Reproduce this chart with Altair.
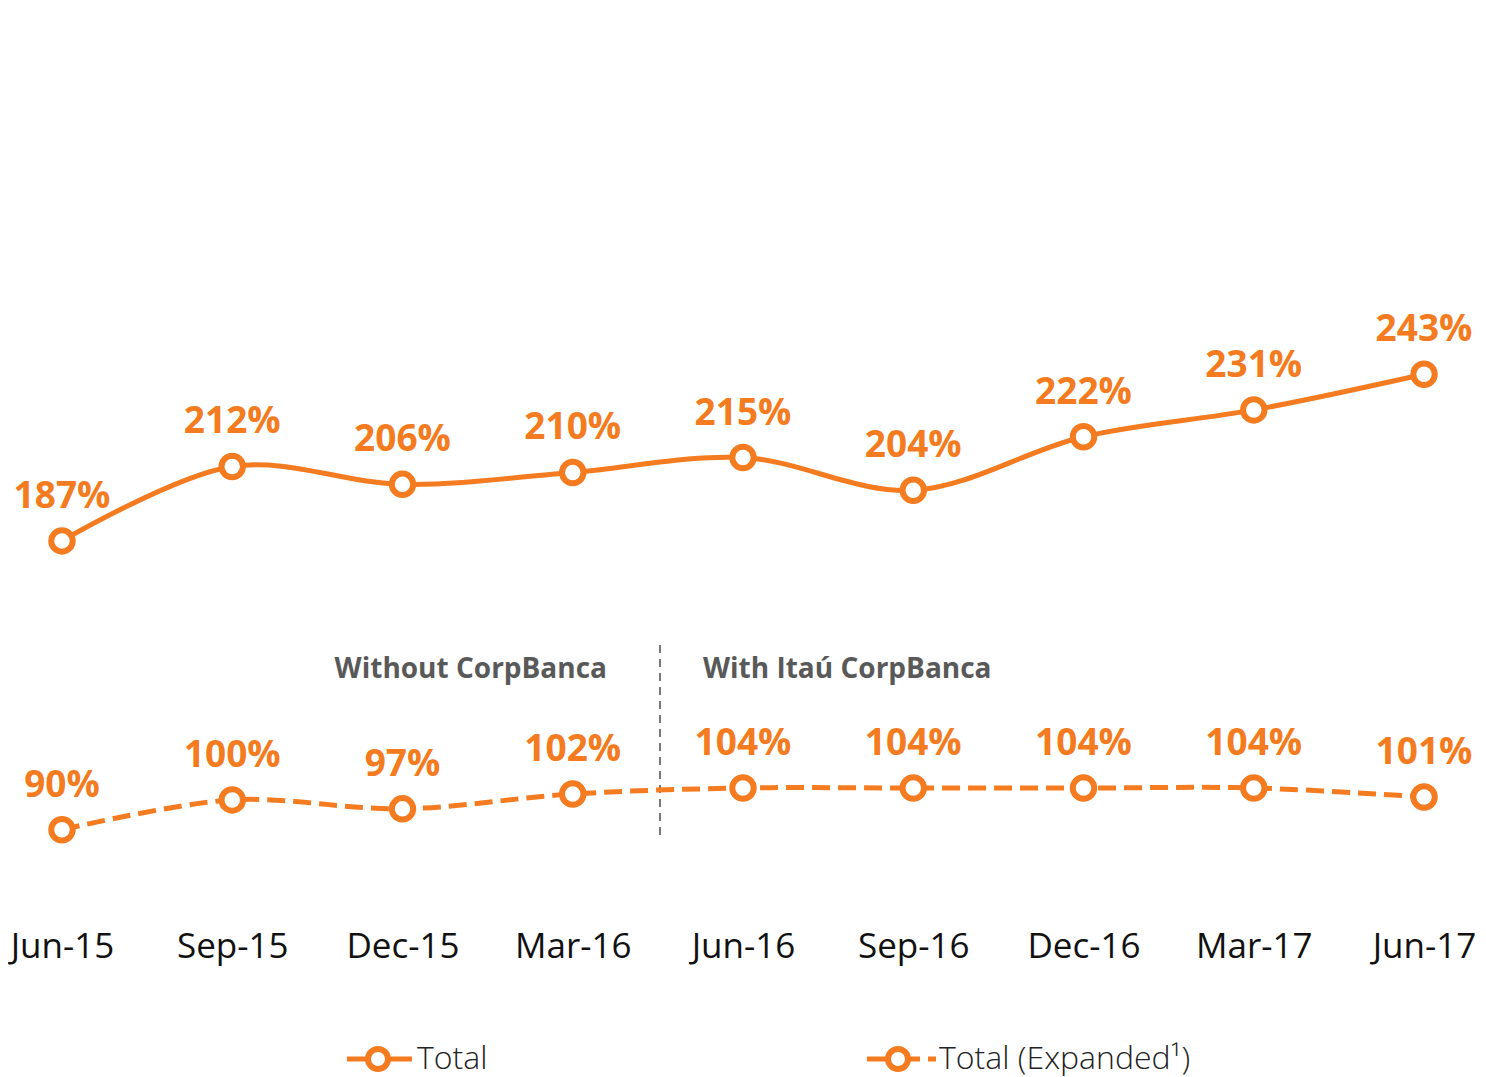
import altair as alt
import pandas as pd

categories = ["Jun-15", "Sep-15", "Dec-15", "Mar-16", "Jun-16", "Sep-16", "Dec-16", "Mar-17", "Jun-17"]
total = [187, 212, 206, 210, 215, 204, 222, 231, 243]
expanded = [90, 100, 97, 102, 104, 104, 104, 104, 101]

ORANGE = "#F47B20"
FONT = "Open Sans"

df_total = pd.DataFrame({"cat": categories, "v": total, "lbl": [f"{v}%" for v in total]})
df_exp = pd.DataFrame({"cat": categories, "v": expanded, "lbl": [f"{v}%" for v in expanded]})

x = alt.X("cat:N", sort=categories,
          scale=alt.Scale(type="point", padding=0.317),
          axis=alt.Axis(title=None, labelAngle=0, labelFontSize=35, labelFont=FONT,
                        labelColor="#111111", ticks=False, domain=False, labelPadding=10,
                        grid=False))
y = alt.Y("v:Q", scale=alt.Scale(domain=[60, 366], nice=False, zero=False), axis=None)


def series(df, dash):
    line_kw = dict(color=ORANGE, strokeWidth=5, interpolate="catmull-rom")
    if dash:
        line_kw["strokeDash"] = [18, 8]
    line = alt.Chart(df).mark_line(**line_kw).encode(x=x, y=y)
    pts = alt.Chart(df).mark_point(shape="circle", filled=True, fill="white", stroke=ORANGE,
                                   strokeWidth=6, size=460, opacity=1).encode(x=x, y=y)
    txt = alt.Chart(df).mark_text(font=FONT, fontSize=37, fontWeight="bold", color=ORANGE,
                                  dy=-44, baseline="middle").encode(x=x, y=y, text="lbl:N")
    return [line, pts, txt]


annot = pd.DataFrame({"t": ["x"]})
divider = alt.Chart(annot).mark_rule(color="#777777", strokeWidth=2, strokeDash=[8, 6]).encode(
    x=alt.value(652), y=alt.value(637), y2=alt.value(830))
without = alt.Chart(annot).mark_text(text="Without CorpBanca", font=FONT, fontSize=28, fontWeight="bold",
                                     color="#595959", align="right", baseline="middle").encode(
    x=alt.value(599), y=alt.value(662))
withit = alt.Chart(annot).mark_text(text="With Itaú CorpBanca", font=FONT, fontSize=28, fontWeight="bold",
                                    color="#595959", align="left", baseline="middle").encode(
    x=alt.value(695), y=alt.value(662))

# legend
leg_y = 1051
leg1_line = alt.Chart(annot).mark_rule(color=ORANGE, strokeWidth=5).encode(
    x=alt.value(339), x2=alt.value(404), y=alt.value(leg_y))
leg1_pt = alt.Chart(annot).mark_point(shape="circle", filled=True, fill="white", stroke=ORANGE,
                                      strokeWidth=6, size=400, opacity=1).encode(
    x=alt.value(370), y=alt.value(leg_y))
leg1_txt = alt.Chart(annot).mark_text(text="Total", font=FONT, fontSize=32, fontWeight=300,
                                      color="#222222", align="left", baseline="middle").encode(
    x=alt.value(409), y=alt.value(leg_y))
leg2_line = alt.Chart(annot).mark_rule(color=ORANGE, strokeWidth=5).encode(
    x=alt.value(859), x2=alt.value(912), y=alt.value(leg_y))
leg2_dot = alt.Chart(annot).mark_rule(color=ORANGE, strokeWidth=5).encode(
    x=alt.value(920), x2=alt.value(928), y=alt.value(leg_y))
leg2_pt = alt.Chart(annot).mark_point(shape="circle", filled=True, fill="white", stroke=ORANGE,
                                      strokeWidth=6, size=400, opacity=1).encode(
    x=alt.value(890), y=alt.value(leg_y))
leg2_txt = alt.Chart(annot).mark_text(text="Total (Expanded¹)", font=FONT, fontSize=32, fontWeight=300,
                                      color="#222222", align="left", baseline="middle").encode(
    x=alt.value(931), y=alt.value(leg_y))

layers = [divider, without, withit] + series(df_total, False) + series(df_exp, True) + \
         [leg1_line, leg1_pt, leg1_txt, leg2_line, leg2_dot, leg2_pt, leg2_txt]

chart = alt.layer(*layers).properties(
    width=1470, height=911,
    autosize=alt.AutoSizeParams(type="none"),
    padding={"left": 0, "top": 0, "right": 0, "bottom": 158},
).configure_view(stroke=None)

chart.save("out.html", embed_options={"renderer": "svg", "actions": False})
